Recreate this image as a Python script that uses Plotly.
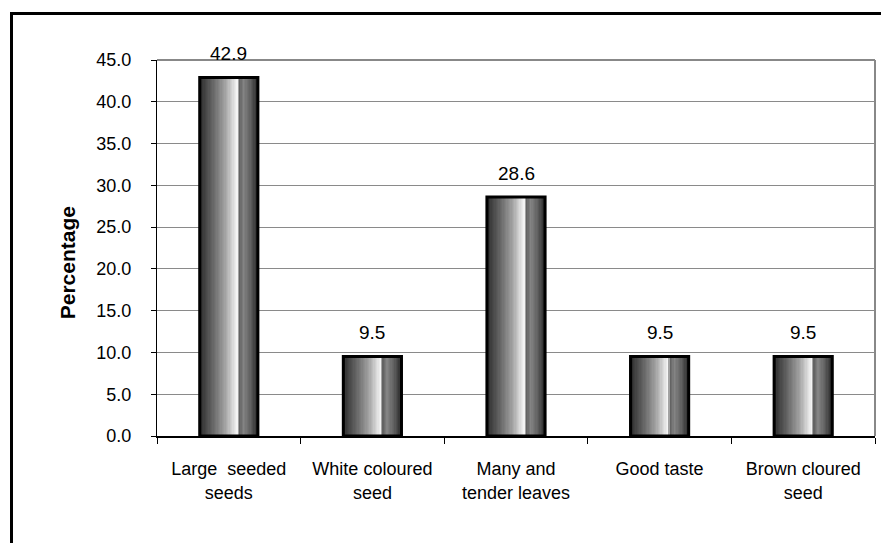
import plotly.graph_objects as go

# ---- data ----
categories = ["Large  seeded<br>seeds", "White coloured<br>seed", "Many and<br>tender leaves",
              "Good taste", "Brown cloured<br>seed"]
values = [42.9, 9.5, 28.6, 9.5, 9.5]
value_labels = ["42.9", "9.5", "28.6", "9.5", "9.5"]
y_ticks = [0, 5, 10, 15, 20, 25, 30, 35, 40, 45]

# ---- style ----
FONT = "Liberation Sans, Arial, sans-serif"
BAR_W = 0.405
N_SLICES = 44
# cylinder-like gradient stops (fraction across bar, grey level)
stops = [(0.00, 0x1a), (0.05, 0x36), (0.25, 0x6a), (0.45, 0xa4), (0.60, 0xe2),
         (0.665, 0xfa), (0.675, 0x5a), (0.76, 0x84), (0.88, 0x60), (1.00, 0x2a)]


def grey_at(f):
    for (f0, g0), (f1, g1) in zip(stops[:-1], stops[1:]):
        if f0 <= f <= f1:
            t = 0 if f1 == f0 else (f - f0) / (f1 - f0)
            g = int(round(g0 + (g1 - g0) * t))
            return f"rgb({g},{g},{g})"
    g = stops[-1][1]
    return f"rgb({g},{g},{g})"


fig = go.Figure()
sw = BAR_W / N_SLICES
for i in range(N_SLICES):
    f = (i + 0.5) / N_SLICES
    fig.add_trace(go.Bar(
        x=categories, y=values,
        width=sw * 1.15, offset=-BAR_W / 2 + i * sw,
        marker=dict(color=grey_at(f), line=dict(width=0)),
        showlegend=False, hoverinfo="skip",
    ))
# outline
fig.add_trace(go.Bar(
    x=categories, y=values, width=BAR_W, offset=-BAR_W / 2,
    marker=dict(color="rgba(0,0,0,0)", line=dict(color="black", width=3)),
    showlegend=False, hoverinfo="skip",
))

# data labels
for c, v, t in zip(categories, values, value_labels):
    fig.add_annotation(x=c, y=v, text=t, showarrow=False, yshift=24,
                       yanchor="middle", font=dict(family=FONT, size=19, color="black"))

# y-axis title
fig.add_annotation(xref="paper", yref="paper", x=-0.125, y=0.46, text="<b>Percentage</b>",
                   textangle=-90, showarrow=False, xanchor="center", yanchor="middle",
                   font=dict(family=FONT, size=21, color="black"))

L, R, T, B = 157, 875, 60, 436
PW, PH = R - L, B - T


def px(xp):
    return (xp - L) / PW


def py(yp):
    return (B - yp) / PH


shapes = [
    # plot area top/right grey border
    dict(type="line", xref="paper", yref="paper", x0=0, x1=1, y0=1, y1=1,
         line=dict(color="#888888", width=2), layer="below"),
    dict(type="line", xref="paper", yref="paper", x0=1, x1=1, y0=0, y1=1,
         line=dict(color="#888888", width=2), layer="below"),
    # outer chart frame
    dict(type="rect", xref="paper", yref="paper", x0=px(11.5), x1=px(890), y0=py(560), y1=py(13.5),
         line=dict(color="black", width=3), fillcolor="rgba(0,0,0,0)"),
]

fig.update_layout(
    width=881, height=543,
    margin=dict(l=L, r=881 - R, t=T, b=543 - B),
    paper_bgcolor="white", plot_bgcolor="white",
    barmode="overlay",
    shapes=shapes,
    font=dict(family=FONT, size=18, color="black"),
    xaxis=dict(
        showline=True, linecolor="black", linewidth=1.5,
        ticks="outside", tickson="boundaries", ticklen=6, tickcolor="black", tickwidth=1,
        showgrid=False, tickfont=dict(family=FONT, size=18, color="black"),
        ticklabelstandoff=16,
    ),
    yaxis=dict(
        range=[0, 45], tickvals=y_ticks, tickformat=".1f",
        showline=True, linecolor="black", linewidth=1,
        ticks="outside", ticklen=5, tickcolor="black", tickwidth=1,
        showgrid=True, gridcolor="#8a8a8a", gridwidth=1, zeroline=False,
        tickfont=dict(family=FONT, size=18, color="black"),
        ticklabelstandoff=16,
    ),
)

fig.write_html("out.html", config={"displayModeBar": False},
               post_script="document.body.style.margin='0';document.body.style.overflow='hidden';")
